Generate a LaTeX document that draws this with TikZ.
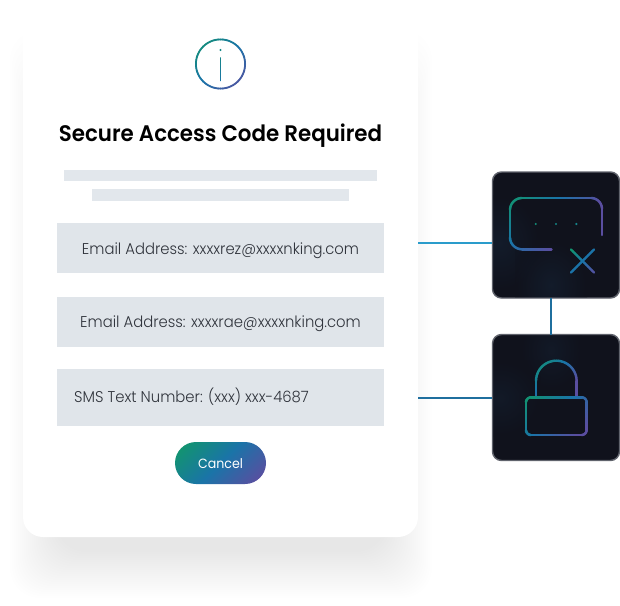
\documentclass[tikz,border=0pt]{standalone}
\usepackage{fontspec}
\setmainfont{Poppins}[UprightFont=* Light,BoldFont=* SemiBold]
\newfontfamily\btnfont{Poppins}[FakeStretch=0.94]
\newfontfamily\fieldfont{Poppins Light}[FakeStretch=0.95]
\newfontfamily\titlefont{Poppins SemiBold}[FakeStretch=0.95]
\usetikzlibrary{calc}
\definecolor{gA}{HTML}{12946F}
\definecolor{gB}{HTML}{1A74A8}
\definecolor{gC}{HTML}{5A4EA0}
\definecolor{fieldgray}{HTML}{E0E5EA}
\definecolor{bargray}{HTML}{E2E7EC}
\definecolor{tiledark}{HTML}{10121C}
\definecolor{tileglow}{HTML}{1B3550}
\definecolor{tileedge}{HTML}{60636C}
\definecolor{linkblue}{HTML}{2A9CCB}
\definecolor{linkdeep}{HTML}{1F6F9E}
\definecolor{inktext}{HTML}{30343C}
\definecolor{shadowtone}{HTML}{50505F}
\pgfdeclareverticalshading{btngrad}{100bp}{color(0bp)=(gC); color(20bp)=(gC); color(50bp)=(gB); color(80bp)=(gA); color(100bp)=(gA)}
% colour of a gradient stroke, by position along the box diagonal
\newcommand{\gradcol}[5]{%
  \pgfmathsetmacro{\gt}{max(0,min(1,((#1-#3)+(#2-#4))/#5))}%
  \pgfmathsetmacro{\gpa}{\gt<0.5 ? 200*\gt : 100}%
  \pgfmathsetmacro{\gpb}{\gt<0.5 ? 0 : 200*(\gt-0.5)}%
  \colorlet{gtmpa}{gB!\gpa!gA}%
  \colorlet{gtmp}{gC!\gpb!gtmpa}}
\newcommand{\gline}[8]{% x1 y1 x2 y2 x0 y0 span width
  \foreach \i in {1,...,12}{%
    \pgfmathsetmacro{\ua}{(\i-1)/12}\pgfmathsetmacro{\ub}{\i/12}%
    \pgfmathsetmacro{\xa}{#1+(#3-#1)*\ua}\pgfmathsetmacro{\ya}{#2+(#4-#2)*\ua}%
    \pgfmathsetmacro{\xb}{#1+(#3-#1)*\ub}\pgfmathsetmacro{\yb}{#2+(#4-#2)*\ub}%
    \gradcol{\xa}{\ya}{#5}{#6}{#7}%
    \draw[gtmp,line width=#8,line cap=round] (\xa,\ya)--(\xb,\yb);}}
\newcommand{\garc}[9]{% cx cy r a1 a2 x0 y0 span width
  \pgfmathtruncatemacro{\gn}{max(6,abs(#5-#4)/5)}%
  \pgfmathsetmacro{\gd}{(#5-#4)/\gn}%
  \foreach \i in {1,...,\gn}{%
    \pgfmathsetmacro{\aa}{#4+\gd*(\i-1)}\pgfmathsetmacro{\ab}{#4+\gd*\i}%
    \pgfmathsetmacro{\xa}{#1+#3*cos(\aa)}\pgfmathsetmacro{\ya}{#2+#3*sin(\aa)}%
    \pgfmathsetmacro{\xb}{#1+#3*cos(\ab)}\pgfmathsetmacro{\yb}{#2+#3*sin(\ab)}%
    \gradcol{\xa}{\ya}{#6}{#7}{#8}%
    \draw[gtmp,line width=#9,line cap=round] (\xa,\ya)--(\xb,\yb);}}
\tikzset{
  cardbox/.style={fill=white,rounded corners=20pt,minimum width=395pt,minimum height=542pt,inner sep=0pt},
  fieldbox/.style={fill=fieldgray,minimum width=327pt,inner sep=0pt},
  barbox/.style={fill=bargray,inner sep=0pt},
  tilebox/.style={fill=tiledark,draw=tileedge,line width=1.4pt,rounded corners=9pt,minimum width=127pt,minimum height=126pt,inner sep=0pt},
  fieldtext/.style={font=\fieldfont\fontsize{15.6}{18}\selectfont,text=inktext,inner sep=0pt,anchor=base},
  linkline/.style={line width=1.4pt},
}
\begin{document}
\begin{tikzpicture}[x=1pt,y=-1pt]
\useasboundingbox (0,0) rectangle (620,605);
\fill[white] (0,0) rectangle (620,605);
% soft shadow below the card
\begin{scope}
\clip (0,0) rectangle (620,605);
\foreach \k in {0,...,23}{
  \pgfmathsetmacro{\gr}{\k*2}
  \fill[shadowtone,opacity=0.0052,rounded corners=30pt]
    ({10+\gr},{30+\gr*3}) rectangle ({432-\gr},{598-\gr});
}
\end{scope}
% card
\node[cardbox] (card) at (220.5,266) {};
% info icon
\garc{220.5}{64}{24.6}{0}{360}{195}{39}{100}{1.8pt}
\gline{220.5}{58}{220.5}{80.5}{210}{48}{90}{1.6pt}
\fill[gA!60!gB] (220.5,50) circle (1.2);
% title
\node[font=\titlefont\fontsize{22.5}{26}\selectfont,text=black,inner sep=0pt,anchor=base] (title) at (220.5,141) {Secure Access Code Required};
% placeholder bars
\node[barbox,minimum width=313pt,minimum height=11pt] (barone) at (220.5,175.5) {};
\node[barbox,minimum width=257pt,minimum height=12pt] (bartwo) at (220.5,195) {};
% fields
\node[fieldbox,minimum height=50pt] (fieldone) at (220.5,248.3) {};
\node[fieldbox,minimum height=50pt] (fieldtwo) at (220.5,321.5) {};
\node[fieldbox,minimum height=57pt] (fieldthree) at (220.5,397.5) {};
\node[fieldtext] (textone) at (220.5,254) {Email Address: xxxxrez@xxxxnking.com};
\node[fieldtext] (texttwo) at (220.5,327) {Email Address: xxxxrae@xxxxnking.com};
\node[fieldtext] (textthree) at (191.5,402) {SMS Text Number: (xxx) xxx-4687};
% cancel button
\node[rounded corners=21pt,shading=btngrad,shading angle=45,
      minimum width=91pt,minimum height=42pt,inner sep=0pt] (cancelbtn) at (220.5,463) {};
\node[font=\btnfont\fontsize{13.4}{18}\selectfont,text=white,inner sep=0pt,anchor=base] (cancel) at (220.5,468) {Cancel};
% tiles
\node[tilebox] (tilekey) at (556,235) {};
\node[tilebox] (tilelock) at (556,397.5) {};
\begin{scope}
\clip[rounded corners=8pt] (493,172.5) rectangle (619,297.5);
\shade[inner color=tileglow,outer color=tiledark,opacity=0.28] (460,195) rectangle (540,291);
\shade[inner color=tileglow,outer color=tiledark,opacity=0.28] (515,240) rectangle (587,330);
\end{scope}
\begin{scope}
\clip[rounded corners=8pt] (493,335) rectangle (619,460);
\shade[inner color=tileglow,outer color=tiledark,opacity=0.22] (520,310) rectangle (582,390);
\shade[inner color=tileglow,outer color=tiledark,opacity=0.22] (460,360) rectangle (540,436);
\end{scope}
% connectors
\coordinate (cardkey) at (card.east |- 0,243);
\coordinate (tilekeyin) at (tilekey.west |- 0,243);
\coordinate (cardlock) at (card.east |- 0,398);
\coordinate (tilelockin) at (tilelock.west |- 0,398);
\coordinate (dropa) at (551,298);
\coordinate (dropb) at (551,334.5);
\draw[linkline,linkblue] (cardkey) -- (tilekeyin);
\draw[linkline,linkdeep] (cardlock) -- (tilelockin);
\draw[line width=2pt,linkdeep] (dropa) -- (dropb);
% key icon: open rounded box, dots, cross
\gline{551.5}{249.3}{522}{249.3}{510}{198}{93}{2.4pt}
\garc{522}{237.3}{12}{90}{180}{510}{198}{93}{2.4pt}
\gline{510}{237.3}{510}{210}{510}{198}{93}{2.4pt}
\garc{522}{210}{12}{180}{270}{510}{198}{93}{2.4pt}
\gline{522}{198}{591}{198}{510}{198}{93}{2.4pt}
\garc{591}{209}{11}{270}{360}{510}{198}{93}{2.4pt}
\gline{602}{209}{602}{235}{510}{198}{93}{2.4pt}
\fill[gA!80!gB] (535.7,224) circle (1.2);
\fill[gA!60!gB] (556,224) circle (1.2);
\fill[gA!50!gB] (576.3,224) circle (1.2);
\gline{571}{249.5}{594}{272.5}{571}{249.5}{46}{2.4pt}
\gline{594}{249.5}{571}{272.5}{575}{245}{46}{2.4pt}
% lock icon
\garc{556.3}{381}{20.3}{180}{360}{536}{361}{60}{2.4pt}
\gline{536}{381}{536}{397}{536}{361}{60}{2.4pt}
\gline{576.6}{381}{576.6}{397}{536}{361}{60}{2.4pt}
\gline{531}{397.3}{581.6}{397.3}{526}{397}{90}{2.4pt}
\garc{581.6}{402.3}{5}{270}{360}{526}{397}{90}{2.4pt}
\gline{586.6}{402.3}{586.6}{430}{526}{397}{90}{2.4pt}
\garc{581.6}{430}{5}{0}{90}{526}{397}{90}{2.4pt}
\gline{581.6}{435}{531}{435}{526}{397}{90}{2.4pt}
\garc{531}{430}{5}{90}{180}{526}{397}{90}{2.4pt}
\gline{526}{430}{526}{402.3}{526}{397}{90}{2.4pt}
\garc{531}{402.3}{5}{180}{270}{526}{397}{90}{2.4pt}
\end{tikzpicture}
\end{document}
